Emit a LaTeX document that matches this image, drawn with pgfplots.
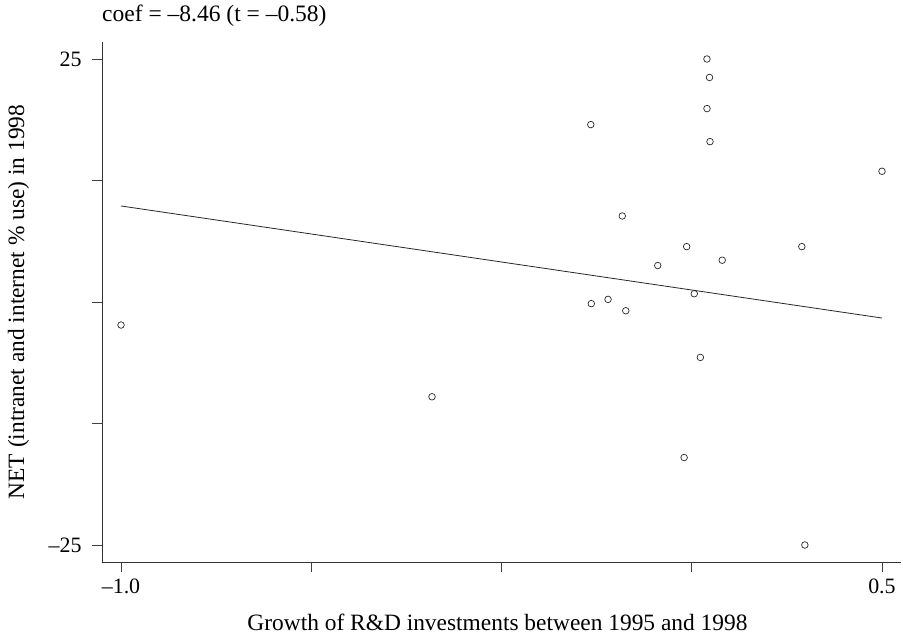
\documentclass[border=0pt]{standalone}
\usepackage{pgfplots}
\pgfplotsset{compat=1.18}
\usepackage{fontspec}
\setmainfont{Liberation Serif}
\pgfplotstableread{
x y
-1.000 -2.37
-0.387 -9.75
-0.074 18.25
-0.073 -0.17
-0.040 0.27
-0.012 8.85
-0.005 -0.90
0.058 3.75
0.115 5.70
0.110 -16.00
0.130 0.85
0.142 -5.70
0.155 25.00
0.160 23.10
0.155 19.90
0.161 16.50
0.185 4.30
0.342 5.70
0.348 -25.00
0.500 13.45
}\pts
\begin{document}
\begin{tikzpicture}
\begin{axis}[
  scale only axis,
  width=799bp, height=520bp,
  xmin=-1.0375, xmax=0.5375,
  ymin=-26.75, ymax=26.75,
  axis x line*=bottom, axis y line*=left,
  axis line style={line width=0.8bp, black!80},
  xtick={-1,-0.625,-0.25,0.125,0.5},
  xticklabels={–1.0,,,,0.5},
  ytick={-25,-12.5,0,12.5,25},
  yticklabels={–25,,,,25},
  tick align=outside,
  major tick length=10bp,
  tick style={line width=0.8bp, black!75},
  ticklabel style={font=\fontsize{22}{26}\selectfont},
  xticklabel style={yshift=-3bp},
  yticklabel style={xshift=-7bp},
  xlabel={Growth of R\&D investments between 1995 and 1998},
  ylabel={NET (intranet and internet \% use) in 1998},
  label style={font=\fontsize{23.5}{27}\selectfont},
  xlabel style={at={(axis description cs:0.495,-0.1308)}, anchor=base},
  ylabel style={at={(axis description cs:-0.0976,0.5)}, anchor=base},
  clip=false,
]
\addplot[only marks, mark=o, mark size=3.3bp, mark options={line width=0.7bp, black!85}] table[x=x,y=y] {\pts};
\addplot[line width=0.8bp, black!85] coordinates {(-1,9.88) (0.5,-1.65)};
\node[anchor=base west, inner sep=0pt, font=\fontsize{23.6}{27}\selectfont] at (axis description cs:0,1.04) {coef = –8.46 (t = –0.58)};
\end{axis}
\pgfresetboundingbox
\path[use as bounding box] (-102bp,-73bp) rectangle (801bp,562bp);
\end{tikzpicture}
\end{document}
